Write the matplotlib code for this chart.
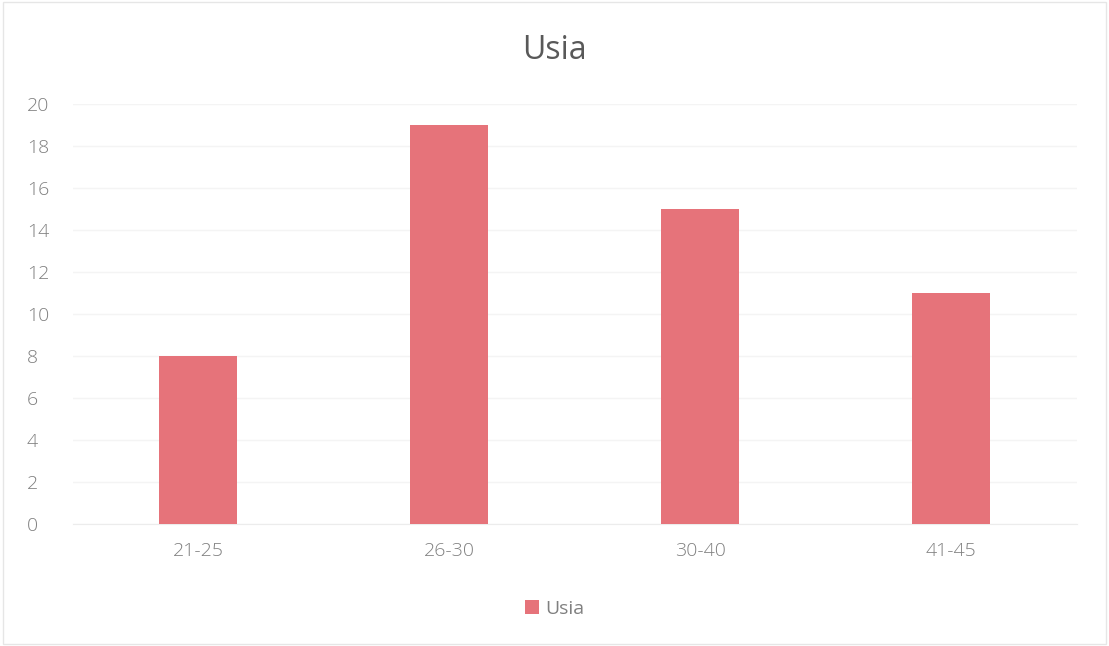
import matplotlib.pyplot as plt
from matplotlib.patches import Rectangle

categories = ["21-25", "26-30", "30-40", "41-45"]
values = [8, 19, 15, 11]
yticks = [0, 2, 4, 6, 8, 10, 12, 14, 16, 18, 20]
series_name = "Usia"

bar_color = "#E6737A"
text_color = "#808080"
font = "Open Sans"

fig = plt.figure(figsize=(11.09, 6.46), dpi=100)
ax = fig.add_axes([0.0654, 0.1889, 0.9053, 0.6501])

x = range(len(categories))
ax.bar(x, values, width=0.31, color=bar_color, label=series_name, zorder=3)

ax.set_xlim(-0.5, len(categories) - 0.5)
ax.set_ylim(0, 20)
ax.set_yticks(yticks)
ax.set_xticks(list(x))
ax.set_xticklabels(categories)

ax.grid(axis="y", color="#f4f4f4", linewidth=1, zorder=0)
for side in ["top", "right", "left"]:
    ax.spines[side].set_visible(False)
ax.spines["bottom"].set_color("#ececec")
ax.tick_params(axis="both", length=0, labelcolor=text_color, labelsize=14)
ax.tick_params(axis="y", pad=33)
ax.tick_params(axis="x", pad=13)
for lbl in ax.get_xticklabels() + ax.get_yticklabels():
    lbl.set_fontfamily(font)
    lbl.set_fontweight("light")
for lbl in ax.get_yticklabels():
    lbl.set_horizontalalignment("left")

fig.text(0.5, 0.922, series_name, ha="center", va="center",
         fontsize=23, color="#595959", family=font)

leg = fig.legend(loc="center", bbox_to_anchor=(0.5, 0.058), frameon=False,
                 handlelength=0.75, handleheight=0.75, handletextpad=0.3,
                 prop={"family": font, "size": 14})
for t in leg.get_texts():
    t.set_color(text_color)

fig.patches.append(Rectangle((0.003, 0.003), 0.994, 0.994, transform=fig.transFigure,
                             fill=False, edgecolor="#e6e6e6", linewidth=1))

fig.savefig("out.png", dpi=100)
